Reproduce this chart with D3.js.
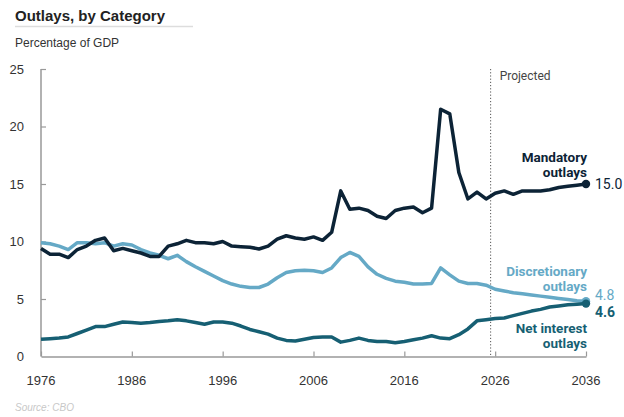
<!DOCTYPE html>
<html>
<head>
<meta charset="utf-8">
<script src="https://cdn.jsdelivr.net/npm/d3@7"></script>
<style>
    body { margin: 0; background: #fff; }
    text { font-family: "Liberation Sans", Arial, sans-serif; }
    .narrow { font-family: "Liberation Sans Narrow", "Roboto", sans-serif; }
</style>
</head>
<body>
<script>
// Years shown on the chart (fiscal years, actual through 2025, projected after)
var firstYear = 1976, lastYear = 2036;
var years = d3.range(firstYear, lastYear + 1);

// Outlays as a percentage of GDP, one value per year 1976-2036
var mandatory = [
    9.4, 8.9, 8.9, 8.6, 9.3, 9.6, 10.1, 10.3, 9.2, 9.4,
    9.2, 9.0, 8.7, 8.7, 9.6, 9.8, 10.1, 9.9, 9.9, 9.8,
    10.0, 9.6, 9.55, 9.5, 9.35, 9.6, 10.2, 10.5, 10.3, 10.2,
    10.4, 10.1, 10.8, 14.4, 12.8, 12.9, 12.7, 12.2, 12.0, 12.7,
    12.9, 13.0, 12.5, 12.9, 21.5, 21.1, 16.0, 13.7, 14.3, 13.7,
    14.2, 14.4, 14.1, 14.4, 14.4, 14.4, 14.5, 14.7, 14.8, 14.9,
    15.0
];
var discretionary = [
    9.9, 9.8, 9.6, 9.3, 9.9, 9.9, 9.8, 9.9, 9.6, 9.8,
    9.7, 9.3, 9.0, 8.8, 8.5, 8.8, 8.25, 7.8, 7.4, 7.0,
    6.6, 6.3, 6.1, 6.0, 6.0, 6.3, 6.85, 7.3, 7.45, 7.5,
    7.45, 7.3, 7.7, 8.6, 9.05, 8.7, 7.8, 7.15, 6.8, 6.55,
    6.45, 6.3, 6.3, 6.35, 7.7, 7.1, 6.55, 6.35, 6.35, 6.2,
    5.85, 5.7, 5.55, 5.45, 5.35, 5.25, 5.15, 5.05, 4.95, 4.85,
    4.8
];
var netInterest = [
    1.5, 1.55, 1.6, 1.7, 2.0, 2.3, 2.6, 2.6, 2.8, 3.0,
    2.95, 2.9, 2.95, 3.05, 3.1, 3.2, 3.1, 2.95, 2.8, 3.0,
    3.0, 2.9, 2.65, 2.35, 2.15, 1.95, 1.6, 1.4, 1.35, 1.5,
    1.65, 1.7, 1.7, 1.25, 1.4, 1.6, 1.4, 1.3, 1.3, 1.2,
    1.3, 1.45, 1.6, 1.8, 1.6, 1.55, 1.9, 2.4, 3.1, 3.2,
    3.3, 3.35, 3.55, 3.75, 3.95, 4.1, 4.3, 4.4, 4.5, 4.55,
    4.6
];

// Axis ticks
var xTicks = [1976, 1986, 1996, 2006, 2016, 2026, 2036];
var yTicks = [0, 5, 10, 15, 20, 25];
var projectedFrom = 2025.5;

window.onload = function(){

    var w = 624, h = 417;

    var svg = d3.select("body")
        .append("svg")
        .attr("width", w)
        .attr("height", h)
        .attr("class", "container");

    // Scales
    var x = d3.scaleLinear()
        .domain([firstYear, lastYear])
        .range([41, 586]);

    var y = d3.scaleLinear()
        .domain([0, 25])
        .range([356.5, 69]);

    // Title block
    svg.append("text")
        .attr("x", 15)
        .attr("y", 21)
        .style("font-size", "15px")
        .style("font-weight", "bold")
        .style("fill", "#222")
        .text("Outlays, by Category");

    svg.append("line")
        .attr("x1", 15)
        .attr("x2", 193)
        .attr("y1", 26.5)
        .attr("y2", 26.5)
        .style("stroke", "#ddd")
        .style("stroke-width", 1.5);

    svg.append("text")
        .attr("x", 15)
        .attr("y", 47)
        .style("font-size", "12px")
        .style("fill", "#333")
        .text("Percentage of GDP");

    // Projection divider
    svg.append("line")
        .attr("x1", x(projectedFrom))
        .attr("x2", x(projectedFrom))
        .attr("y1", y(25))
        .attr("y2", y(0))
        .style("stroke", "#555")
        .style("stroke-width", 1)
        .style("stroke-dasharray", "1.2,2");

    svg.append("text")
        .attr("class", "narrow")
        .attr("x", x(projectedFrom) + 9)
        .attr("y", 80)
        .style("font-size", "12px")
        .style("fill", "#444")
        .text("Projected");

    // Y axis: ticks pointing inward, labels on the left
    var yAxis = svg.append("g")
        .attr("class", "axis")
        .attr("transform", "translate(41,0)")
        .call(d3.axisRight(y).tickValues(yTicks).tickSize(5).tickFormat(""));

    yAxis.select(".domain").remove();
    yAxis.selectAll(".tick line").style("stroke", "#999").style("stroke-width", 1.2);
    yAxis.selectAll(".tick").filter(function(d){ return d === 0; }).remove();

    svg.append("line")
        .attr("x1", 41)
        .attr("x2", 41)
        .attr("y1", y(25))
        .attr("y2", y(0))
        .style("stroke", "#999")
        .style("stroke-width", 1.5);

    svg.selectAll(".ylab")
        .data(yTicks)
        .enter()
        .append("text")
        .attr("class", "ylab")
        .attr("x", 24)
        .attr("y", function(d){ return y(d) + 4.5; })
        .attr("text-anchor", "end")
        .style("font-size", "13px")
        .style("fill", "#333")
        .text(function(d){ return d; });

    // X axis: ticks pointing up
    var xAxis = svg.append("g")
        .attr("class", "axis")
        .attr("transform", "translate(0," + y(0) + ")")
        .call(d3.axisTop(x).tickValues(xTicks).tickSize(5).tickFormat("").tickSizeOuter(0));

    xAxis.select(".domain").style("stroke", "#999").style("stroke-width", 1.5);
    xAxis.selectAll(".tick line").style("stroke", "#999").style("stroke-width", 1.2);

    svg.selectAll(".xlab")
        .data(xTicks)
        .enter()
        .append("text")
        .attr("class", "xlab")
        .attr("x", function(d){ return x(d); })
        .attr("y", 385)
        .attr("text-anchor", "middle")
        .style("font-size", "13px")
        .style("fill", "#333")
        .text(function(d){ return d; });

    // Series
    var series = [
        { name: "mandatory", values: mandatory, color: "#0c2336" },
        { name: "discretionary", values: discretionary, color: "#65a9c6" },
        { name: "interest", values: netInterest, color: "#165f73" }
    ];

    var line = d3.line()
        .x(function(d, i){ return x(years[i]); })
        .y(function(d){ return y(d); });

    // Draw discretionary first so the darker lines sit on top
    [series[1], series[2], series[0]].forEach(function(s){
        svg.append("path")
            .datum(s.values)
            .attr("class", "line " + s.name)
            .attr("d", line)
            .style("fill", "none")
            .style("stroke", s.color)
            .style("stroke-width", 3.5)
            .style("stroke-linejoin", "round");

        svg.append("circle")
            .attr("cx", x(lastYear))
            .attr("cy", y(s.values[s.values.length - 1]))
            .attr("r", 4.2)
            .style("fill", s.color);
    });

    // Series labels, right aligned just left of the end markers
    var labels = [
        { lines: ["Mandatory", "outlays"], y: 162, color: series[0].color },
        { lines: ["Discretionary", "outlays"], y: 276, color: series[1].color },
        { lines: ["Net interest", "outlays"], y: 333, color: series[2].color }
    ];

    labels.forEach(function(l){
        l.lines.forEach(function(s, i){
            svg.append("text")
                .attr("class", "narrow")
                .attr("text-anchor", "end")
                .attr("x", 587)
                .attr("y", l.y + i * 15)
                .style("font-size", "13.5px")
                .style("font-weight", "bold")
                .style("fill", l.color)
                .text(s);
        });
    });

    // End values
    var fmt = d3.format(".1f");
    var ends = [
        { v: mandatory[mandatory.length - 1], dy: 5, color: series[0].color, weight: "normal" },
        { v: discretionary[discretionary.length - 1], dy: -1, color: series[1].color, weight: "normal" },
        { v: netInterest[netInterest.length - 1], dy: 13, color: series[2].color, weight: "bold" }
    ];

    ends.forEach(function(e){
        svg.append("text")
            .attr("class", "narrow")
            .attr("x", 595)
            .attr("y", y(e.v) + e.dy)
            .style("font-size", "14px")
            .style("font-weight", e.weight)
            .style("fill", e.color)
            .text(fmt(e.v));
    });

    // Source note
    svg.append("text")
        .attr("x", 15)
        .attr("y", 411)
        .style("font-size", "10px")
        .style("font-style", "italic")
        .style("fill", "#c8c8c8")
        .text("Source: CBO");
};
</script>
</body>
</html>
